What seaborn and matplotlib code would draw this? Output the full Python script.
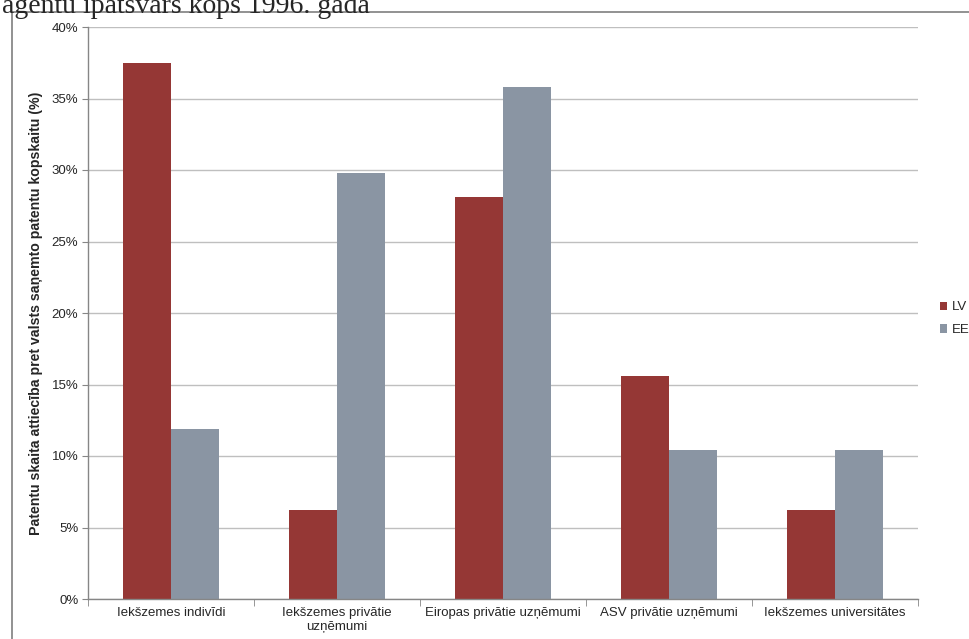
import matplotlib
matplotlib.use("Agg")
import matplotlib.pyplot as plt
import seaborn as sns
import pandas as pd
import numpy as np
from matplotlib.ticker import PercentFormatter

categories = ['Iekšzemes indivīdi', 'Iekšzemes privātie\nuzņēmumi',
              'Eiropas privātie uzņēmumi', 'ASV privātie uzņēmumi',
              'Iekšzemes universitātes']
lv_values = [37.5, 6.25, 28.1, 15.6, 6.25]
ee_values = [11.9, 29.8, 35.8, 10.4, 10.4]
series = ['LV', 'EE']

df = pd.DataFrame({
    'Kategorija': categories * 2,
    'Vērtība': lv_values + ee_values,
    'Valsts': ['LV'] * len(categories) + ['EE'] * len(categories),
})

sns.set_style('white')
plt.rcParams['font.family'] = ['Liberation Sans', 'DejaVu Sans']

W, H = 969, 639
fig = plt.figure(figsize=(W / 100, H / 100), dpi=100)
ax = fig.add_axes([88 / W, 1 - 599 / H, (918 - 88) / W, (599 - 27) / H])

palette = {'LV': '#953735', 'EE': '#8A95A3'}
sns.barplot(data=df, x='Kategorija', y='Vērtība', hue='Valsts', hue_order=series,
            palette=palette, width=0.58, gap=0, saturation=1, linewidth=0,
            ax=ax, legend=True)

ax.set_ylim(0, 40)
ax.set_xlim(-0.5, len(categories) - 0.5)
ax.set_yticks(np.arange(0, 41, 5))
ax.yaxis.set_major_formatter(PercentFormatter(decimals=0))
ax.yaxis.grid(True, color='#BFBFBF', linewidth=1)
ax.set_axisbelow(True)

ax.set_xlabel('')
ax.set_ylabel('Patentu skaita attiecība pret valsts saņemto patentu kopskaitu (%)',
              fontsize=10.2, fontweight='bold', labelpad=6)

for s in ['top', 'right']:
    ax.spines[s].set_visible(False)
for s in ['left', 'bottom']:
    ax.spines[s].set_color('#868686')
    ax.spines[s].set_linewidth(1)

ax.tick_params(axis='y', labelsize=9.5, length=4, color='#868686', left=True, pad=3)
ax.tick_params(axis='x', labelsize=9.5, length=0, pad=6)
ax.set_xticks(np.arange(-0.5, len(categories), 1), minor=True)
ax.tick_params(axis='x', which='minor', length=5, color='#868686', bottom=True)

handles, labels = ax.get_legend_handles_labels()
ax.legend(handles, labels, loc='center left', bbox_to_anchor=(1.026, 0.49),
          frameon=False, fontsize=9.5, handlelength=0.6, handleheight=0.6,
          handletextpad=0.3, labelspacing=0.8, borderaxespad=0, borderpad=0)

# chart frame (cropped screenshot) and the cut-off heading above it
fig.add_artist(plt.Line2D([12 / W, 1], [1 - 12 / H, 1 - 12 / H], color='#7F7F7F', lw=1.2))
fig.add_artist(plt.Line2D([12 / W, 12 / W], [0, 1 - 12 / H], color='#7F7F7F', lw=1.2))
fig.text(2 / W, 1 - 13 / H, 'agentu īpatsvars kopš 1996. gadā', fontsize=20,
         family=['Liberation Serif', 'DejaVu Serif'], va='baseline', ha='left')

fig.savefig('out.png', dpi=100)
